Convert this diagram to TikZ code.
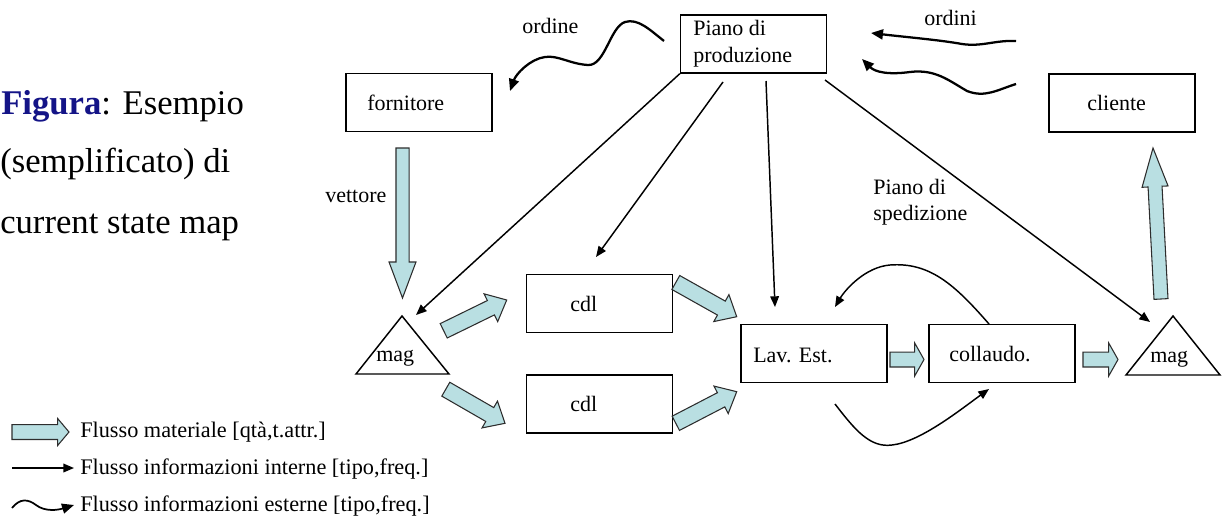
\documentclass[tikz,border=0pt]{standalone}
\usepackage{fontspec}
\setmainfont{Liberation Serif}
\usetikzlibrary{arrows.meta,calc}
\definecolor{flowfill}{RGB}{185,223,226}
\definecolor{flowline}{RGB}{45,45,45}
\definecolor{titleblue}{RGB}{20,20,135}

% material-flow block arrow: #1 tail, #2 tip, #3 shaft half width,
% #4 head half width, #5 head length
\newcommand{\blockarrow}[5]{%
  \path ($(#2)!#5!(#1)$) coordinate (ba-h);
  \filldraw[matflow] ($(#1)!#3!90:(#2)$) -- ($(ba-h)!#3!90:(#2)$)
    -- ($(ba-h)!#4!90:(#2)$) -- (#2) -- ($(ba-h)!#4!-90:(#2)$)
    -- ($(ba-h)!#3!-90:(#2)$) -- ($(#1)!#3!-90:(#2)$) -- cycle;}

\begin{document}
\begin{tikzpicture}[x=0.75pt,y=-0.75pt,
  box/.style={draw, line width=1.1pt, minimum width=109.5pt, minimum height=43.5pt, inner sep=0pt},
  lbl/.style={anchor=base west, inner sep=0pt, font=\fontsize{16.5}{19}\selectfont},
  leg/.style={anchor=base west, inner sep=0pt, font=\fontsize{16.7}{19}\selectfont},
  big/.style={anchor=base west, inner sep=0pt, font=\fontsize{26}{30}\selectfont},
  matflow/.style={fill=flowfill, draw=flowline, line width=0.8pt, line join=miter},
  infoint/.style={line width=1.1pt, -{Triangle[length=8pt,width=6.5pt]}},
  infoext/.style={line width=1.7pt, -{Triangle[length=9pt,width=7.5pt]}},
  tri/.style={draw, line width=1.1pt, line join=miter}]
\useasboundingbox (0,0) rectangle (1223,517);

% ---- title
\node[big] (t1) at (1,114) {\textbf{\color{titleblue}Figura}: Esempio};
\node[big] (t2) at (0,172) {(semplificato) di};
\node[big] (t3) at (0,233) {current state map};

% ---- boxes
\node[box] (pp)   at (753.5,44)  {};
\node[box] (forn) at (419,102.5) {};
\node[box] (cli)  at (1122,103)  {};
\node[box] (cdl1) at (599.5,303.5) {};
\node[box] (cdl2) at (599.5,404) {};
\node[box] (lav)  at (814,353.5) {};
\node[box] (coll) at (1002,353.5) {};

\node[lbl] (pp-a) at (693,36) {Piano di};
\node[lbl] (pp-b) at (693,63) {produzione};
\node[lbl] (forn-t) at (367,110) {fornitore};
\node[lbl] (cli-t) at (1087,110) {cliente};
\node[lbl] (cdl1-t) at (570,311) {cdl};
\node[lbl] (cdl2-t) at (570,411) {cdl};
\node[lbl] (lav-t) at (753,362) {Lav. Est.};
\node[lbl] (coll-t) at (949,361) {collaudo.};

% ---- warehouses
\coordinate (mL-top) at (402,316);
\coordinate (mL-r) at (449,374);
\coordinate (mL-l) at (356,374);
\draw[tri] (mL-top) -- (mL-r) -- (mL-l) -- cycle;
\node[lbl] (magL) at (376,361) {mag};
\coordinate (mR-top) at (1173,316);
\coordinate (mR-r) at (1220,375);
\coordinate (mR-l) at (1126,375);
\draw[tri] (mR-top) -- (mR-r) -- (mR-l) -- cycle;
\node[lbl] (magR) at (1150,362) {mag};

% ---- free labels
\node[lbl] (ord) at (522,34) {ordine};
\node[lbl] (ords) at (924,26) {ordini};
\node[lbl] (vett) at (325,202) {vettore};
\node[lbl] (sp-a) at (873,194) {Piano di};
\node[lbl] (sp-b) at (873,220) {spedizione};

% ---- material flows
\coordinate (v-s) at (402.5,148);  \coordinate (v-e) at (402.5,298);
\blockarrow{v-s}{v-e}{4.9pt}{10.1pt}{27pt}
\coordinate (c-s) at (1161,299);   \coordinate (c-e) at (1153,148);
\blockarrow{c-s}{c-e}{5.25pt}{9.75pt}{29pt}
\coordinate (a1-s) at (443.7,330.8); \coordinate (a1-e) at (506.7,300);
\blockarrow{a1-s}{a1-e}{6pt}{11.6pt}{13.2pt}
\coordinate (a2-s) at (445.8,389.2); \coordinate (a2-e) at (505,423.3);
\blockarrow{a2-s}{a2-e}{6pt}{11.6pt}{13.2pt}
\coordinate (a3-s) at (675.8,282.5); \coordinate (a3-e) at (736.7,316.7);
\blockarrow{a3-s}{a3-e}{6pt}{11.6pt}{13.2pt}
\coordinate (a4-s) at (675.8,423.3); \coordinate (a4-e) at (736.7,391.7);
\blockarrow{a4-s}{a4-e}{6pt}{11.6pt}{13.2pt}
\coordinate (a5-s) at (890,359.5); \coordinate (a5-e) at (924,359.5);
\blockarrow{a5-s}{a5-e}{5.6pt}{12.4pt}{7pt}
\coordinate (a6-s) at (1083,359.5); \coordinate (a6-e) at (1118,359.5);
\blockarrow{a6-s}{a6-e}{5.6pt}{12.4pt}{7pt}

% ---- internal information flows
\coordinate (i1-e) at (416,315);
\draw[infoint] (pp.south west) -- (i1-e);
\coordinate (i2-s) at (723,82);  \coordinate (i2-e) at (596,257);
\draw[infoint] (i2-s) -- (i2-e);
\coordinate (i3-s) at (766,81);  \coordinate (i3-e) at (775,307);
\draw[infoint] (i3-s) -- (i3-e);
\coordinate (i4-s) at (825,80);  \coordinate (i4-e) at (1150,322);
\draw[infoint] (i4-s) -- (i4-e);

% rework loop between Lav. Est. and collaudo
\coordinate (r1-s) at (989,324); \coordinate (r1-e) at (835,307);
\draw[infoint] (r1-s) .. controls (955,285) and (930,262) .. (890,265)
  .. controls (865,267) and (845,290) .. (r1-e);
\coordinate (r2-s) at (835,404); \coordinate (r2-e) at (989,389);
\draw[infoint] (r2-s) .. controls (855,430) and (870,448) .. (892,445)
  .. controls (920,442) and (960,410) .. (r2-e);

% ---- external information flows
\coordinate (o1-s) at (664,41); \coordinate (o1-e) at (510,91);
\draw[infoext] (o1-s) .. controls (650,30) and (638,18) .. (625,22)
  .. controls (610,27) and (605,66) .. (588,65)
  .. controls (570,64) and (558,55) .. (545,57)
  .. controls (530,59) and (516,74) .. (o1-e);
\coordinate (o2-s) at (1016,41); \coordinate (o2-e) at (871,33);
\draw[infoext] (o2-s) .. controls (995,40) and (982,47) .. (962,44)
  .. controls (940,40) and (905,37) .. (o2-e);
\coordinate (o3-s) at (1016,84); \coordinate (o3-e) at (862,59);
\draw[infoext] (o3-s) .. controls (997,90) and (985,98) .. (967,91)
  .. controls (948,80) and (935,69) .. (910,72)
  .. controls (888,75) and (875,72) .. (o3-e);

% ---- legend
\coordinate (l1-s) at (12,432); \coordinate (l1-e) at (69,432);
\blockarrow{l1-s}{l1-e}{5.6pt}{10.1pt}{8.5pt}
\node[leg] (l1) at (80,437) {Flusso materiale [qtà,t.attr.]};
\coordinate (l2-s) at (12,468); \coordinate (l2-e) at (74,468);
\draw[infoint] (l2-s) -- (l2-e);
\node[leg] (l2) at (80,474) {Flusso informazioni interne [tipo,freq.]};
\coordinate (l3-s) at (12,508); \coordinate (l3-e) at (74,505);
\draw[infoext, line width=1.3pt] (l3-s) .. controls (20,498) and (28,499) .. (36,505)
  .. controls (45,512) and (58,510) .. (l3-e);
\node[leg] (l3) at (80,511) {Flusso informazioni esterne [tipo,freq.]};
\end{tikzpicture}
\end{document}
